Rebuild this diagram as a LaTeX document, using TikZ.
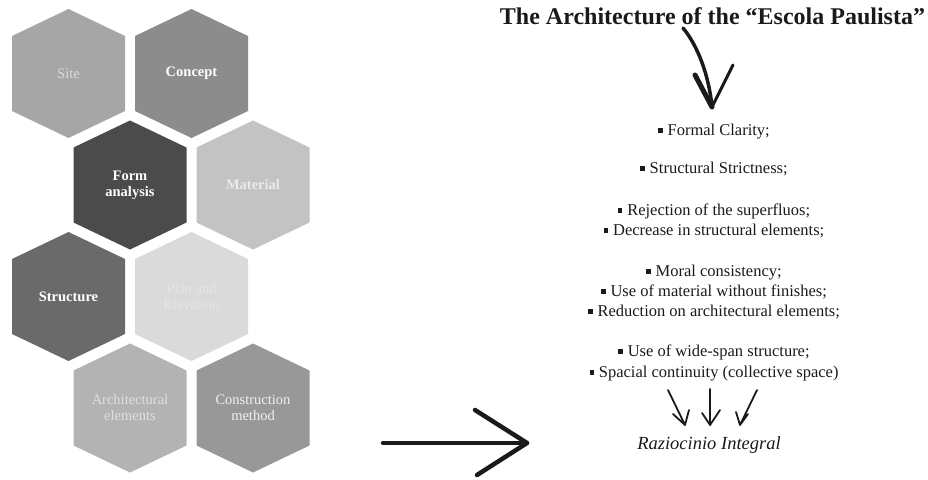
\documentclass[tikz,border=0pt]{standalone}
\usepackage{fontspec}
\setmainfont{Liberation Serif}
\definecolor{hsite}{HTML}{A6A6A6}
\definecolor{hconcept}{HTML}{8C8C8C}
\definecolor{hform}{HTML}{4B4B4B}
\definecolor{hmaterial}{HTML}{C3C3C3}
\definecolor{hstructure}{HTML}{6A6A6A}
\definecolor{hplan}{HTML}{DADADA}
\definecolor{harch}{HTML}{B3B3B3}
\definecolor{hmethod}{HTML}{989898}
\definecolor{ink}{HTML}{1A1A1A}
\newcommand{\blt}{\raisebox{0.28ex}{\rule{0.27em}{0.27em}}\hspace{0.3em}}
\tikzset{
  cell/.style={font=\fontsize{14.5}{16}\selectfont, align=center, inner sep=0pt},
  bcell/.style={cell, font=\fontsize{14.5}{16}\selectfont\bfseries},
  item/.style={font=\fontsize{16.5}{18}\selectfont, text=ink, inner sep=0pt, anchor=base},
  pen/.style={ink, line width=3.5pt, line cap=round, line join=round}
}
\begin{document}
\begin{tikzpicture}[x=1pt,y=-1pt]
\useasboundingbox (0,0) rectangle (928,479);
%
\foreach \x/\y/\f in {68.5/73.5/hsite, 191.5/73.5/hconcept, 130/185/hform, 253/185/hmaterial,
  68.5/296.5/hstructure, 191.5/296.5/hplan, 130/408/harch, 253/408/hmethod}
  \fill[\f](\x,\y)++(0,-64.5)--++(56.5,27)--++(0,75)--++(-56.5,27)--++(-56.5,-27)--++(0,-75)--cycle;
\node[cell,text=hplan](site)at(68.5,73.5){Site};
\node[bcell,text=white](concept)at(191.5,73.5){Concept};
\node[bcell,text=white](form)at(130,185){Form\\analysis};
\node[bcell,text=white!92!black](material)at(253,185){Material};
\node[bcell,text=white](structure)at(68.5,296.5){Structure};
\node[cell,text=white!90!black](plan)at(191.5,296.5){Plan and\\Elevation};
\node[cell,text=white!88!black](arch)at(130,408){Architectural\\elements};
\node[cell,text=white!94!black](method)at(253,408){Construction\\method};
%
\node[font=\fontsize{24}{26}\selectfont\bfseries,text=ink,inner sep=0pt,anchor=base](title)at(712.5,24){The Architecture of the “Escola Paulista”};
\node[item](l1)at(714,135){\blt Formal Clarity;};
\node[item](l2)at(714,173){\blt Structural Strictness;};
\node[item](l3)at(714,215){\blt Rejection of the superfluos;};
\node[item](l4)at(714,235){\blt Decrease in structural elements;};
\node[item](l5)at(714,276){\blt Moral consistency;};
\node[item](l6)at(714,296){\blt Use of material without finishes;};
\node[item](l7)at(714,316){\blt Reduction on architectural elements;};
\node[item](l8)at(714,356){\blt Use of wide-span structure;};
\node[item](l9)at(714,377){\blt Spacial continuity (collective space)};
\node[item,font=\fontsize{18.5}{20}\selectfont\itshape](raz)at(709,449){Raziocinio Integral};
%
\coordinate(d0)at(683,28);
\coordinate(d1)at(712,107);
\draw[pen](d0)..controls(698,46)and(709,76)..(d1);
\draw[pen,line width=5pt](695,75)--(d1);
\draw[pen,line width=3pt](d1)--(733,65);
%
\coordinate(r0)at(383,443);
\coordinate(r1)at(527,443);
\draw[pen,line width=4.5pt](r0)--(r1);
\draw[pen,line width=4.5pt](475,410)--(r1)--(477,475);
%
\coordinate(a1)at(668,390);\coordinate(b1)at(685,425);
\coordinate(a2)at(710,389);\coordinate(b2)at(710,425);
\coordinate(a3)at(757,390);\coordinate(b3)at(740,425);
\draw[pen,line width=1.8pt](a1)--(b1)(673,414)--(b1)--(689,410);
\draw[pen,line width=1.8pt](a2)--(b2)(702,413)--(b2)--(720,410);
\draw[pen,line width=1.8pt](a3)--(b3)(736,412)--(b3)--(748,414);
\end{tikzpicture}
\end{document}
